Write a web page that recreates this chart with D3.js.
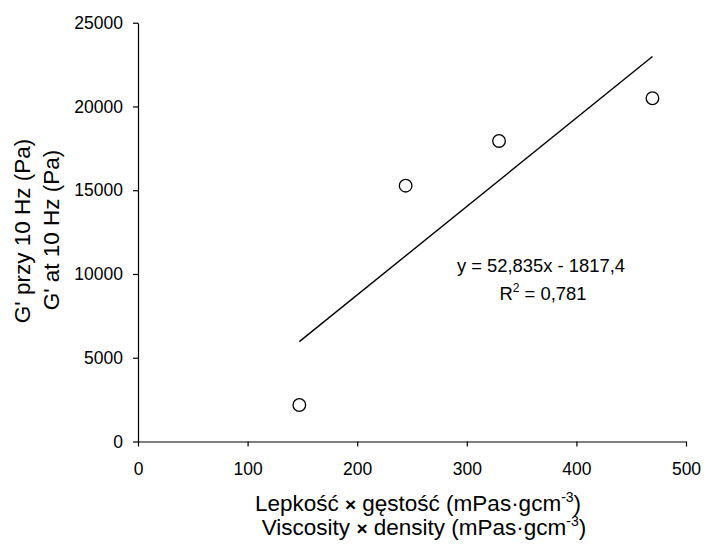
<!DOCTYPE html>
<html>
<head>
<meta charset="utf-8">
<script src="https://cdn.jsdelivr.net/npm/d3@7"></script>
<style>
  html, body { margin: 0; padding: 0; background: #fff; }
  svg text { font-family: "Liberation Sans", Arial, sans-serif; fill: #000; }
</style>
</head>
<body>
<div id="chart"></div>
<script>
// data
const viscDensity = [147.2, 244.2, 329.4, 469.4];
const gPrime = [2180, 15270, 17940, 20490];
const xTicks = [0, 100, 200, 300, 400, 500];
const yTicks = [0, 5000, 10000, 15000, 20000, 25000];
const fitSlope = 52.835;
const fitIntercept = -1817.4;

// 1) Container
const container = d3.select("#chart");
container.selectAll("*").remove();

// 2) Dimensions
const width = 704;
const height = 546;
const margin = { top: 22.7, right: 18, bottom: 104.5, left: 138 };

const svg = container
  .append("svg")
  .attr("width", width)
  .attr("height", height);

// 3) Scales
const x = d3.scaleLinear().domain([0, 500]).range([margin.left, width - margin.right]);
const y = d3.scaleLinear().domain([0, 25000]).range([height - margin.bottom, margin.top]);

// 4) Axes
const xAxis = svg
  .append("g")
  .attr("transform", `translate(0, ${y(0)})`)
  .call(d3.axisBottom(x).tickValues(xTicks).tickSize(5).tickPadding(16).tickSizeOuter(0));

const yAxis = svg
  .append("g")
  .attr("transform", `translate(${x(0)}, 0)`)
  .call(d3.axisLeft(y).tickValues(yTicks).tickFormat(d3.format("d")).tickSize(5).tickPadding(10).tickSizeOuter(0));

[xAxis, yAxis].forEach((g) => {
  g.selectAll("path, line").attr("stroke", "#000").attr("stroke-width", 1.2);
  g.selectAll("text").style("font-size", "17.5px").attr("fill", "#000");
});

// 5) Axis titles (two languages, two lines each)
function addXTitle(words, cx, cy) {
  const t = svg
    .append("text")
    .attr("text-anchor", "middle")
    .attr("x", cx)
    .attr("y", cy)
    .style("font-size", "22.5px");
  t.append("tspan").text(words[0]);
  t.append("tspan").style("font-weight", "bold").style("font-size", "19px").text("×");
  t.append("tspan").text(words[1]);
  t.append("tspan").attr("dy", -9).style("font-size", "14px").text("-3");
  t.append("tspan").attr("dy", 9).text(")");
}
addXTitle(["Lepkość  ", " gęstość (mPas·gcm"], 418, 511);
addXTitle(["Viscosity ", " density (mPas·gcm"], 424, 535);

svg
  .append("text")
  .attr("text-anchor", "middle")
  .attr("transform", "translate(30, 231) rotate(-90)")
  .style("font-size", "22.5px")
  .text("G' przy 10 Hz (Pa)");

svg
  .append("text")
  .attr("text-anchor", "middle")
  .attr("transform", "translate(59, 230) rotate(-90)")
  .style("font-size", "22.5px")
  .text("G' at 10 Hz (Pa)");

// 6) Trend line over the data range
const xExtent = d3.extent(viscDensity);
const fitLine = xExtent.map((v) => [v, fitSlope * v + fitIntercept]);
svg
  .append("path")
  .datum(fitLine)
  .attr("fill", "none")
  .attr("stroke", "#000")
  .attr("stroke-width", 1.4)
  .attr("d", d3.line().x((d) => x(d[0])).y((d) => y(d[1])));

// 7) Points
const points = viscDensity.map((v, i) => ({ x: v, y: gPrime[i] }));
svg
  .selectAll("circle")
  .data(points)
  .enter()
  .append("circle")
  .attr("cx", (d) => x(d.x))
  .attr("cy", (d) => y(d.y))
  .attr("r", 6.3)
  .attr("fill", "#fff")
  .attr("stroke", "#000")
  .attr("stroke-width", 1.3);

// 8) Equation label
svg
  .append("text")
  .attr("text-anchor", "middle")
  .attr("x", 541)
  .attr("y", 272)
  .style("font-size", "18.4px")
  .text("y = 52,835x - 1817,4");

const r2 = svg
  .append("text")
  .attr("text-anchor", "middle")
  .attr("x", 543)
  .attr("y", 300)
  .style("font-size", "18.4px");
r2.append("tspan").text("R");
r2.append("tspan").attr("dy", -8).style("font-size", "12px").text("2");
r2.append("tspan").attr("dy", 8).text(" = 0,781");
</script>
</body>
</html>
